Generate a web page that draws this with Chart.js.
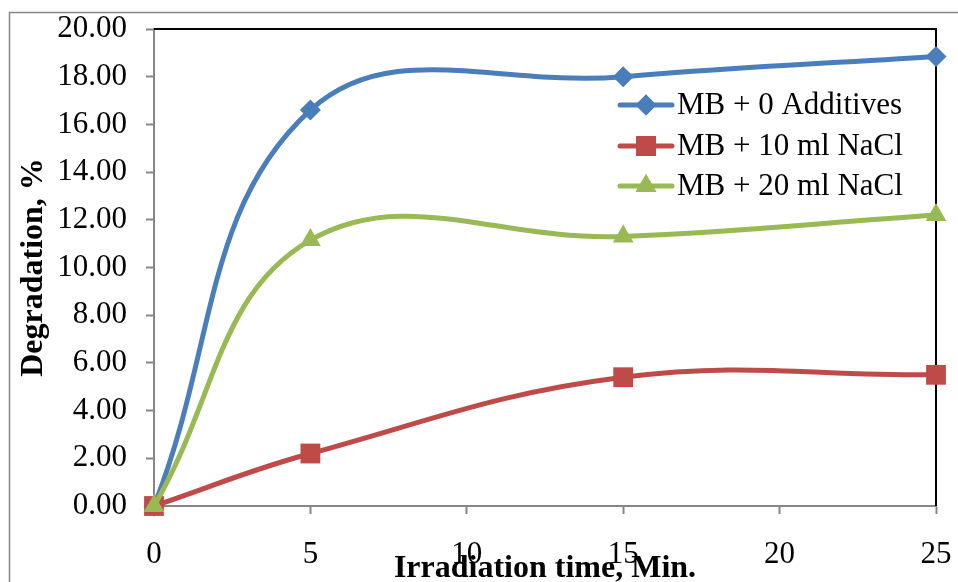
<!DOCTYPE html>
<html>
<head>
<meta charset="utf-8">
<script src="https://cdn.jsdelivr.net/npm/chart.js@4.4.1/dist/chart.umd.min.js"></script>
<style>
  html, body { margin: 0; padding: 0; background: #fff; overflow: hidden; }
  #wrap { position: relative; width: 958px; height: 582px; }
</style>
</head>
<body>
<div id="wrap"><canvas id="chart" width="958" height="582"></canvas></div>
<script>
// ── Data ──────────────────────────────────────────────────────────────────────
const times = [0, 5, 15, 25];
const seriesNames = ['MB + 0 Additives', 'MB + 10 ml NaCl', 'MB + 20 ml NaCl'];
const noAdditive = [0, 16.6, 18.0, 18.85];
const nacl10 = [0, 2.2, 5.4, 5.5];
const nacl20 = [0, 11.15, 11.3, 12.2];
const xTicks = [0, 5, 10, 15, 20, 25];
const yTicks = [0, 2, 4, 6, 8, 10, 12, 14, 16, 18, 20];

const SERIF = '"Liberation Serif", "Times New Roman", serif';
const AXIS_GREY = '#868686';

const COLORS = { blue: '#4a7ebb', red: '#be4b48', green: '#98b954' };

function toPoints(vals) { return times.map((t, i) => ({ x: t, y: vals[i] })); }

function series(label, vals, color, style, radius, order) {
  return {
    label,
    data: toPoints(vals),
    borderColor: color,
    backgroundColor: color,
    borderWidth: 5,
    tension: 0.4,
    pointStyle: style,
    pointRadius: radius,
    pointBorderWidth: 0,
    pointBackgroundColor: color,
    clip: false,
    order
  };
}

const datasets = [
  series(seriesNames[0], noAdditive, COLORS.blue, 'rectRot', 10.5, 2),
  series(seriesNames[1], nacl10, COLORS.red, 'rect', 14, 1),
  series(seriesNames[2], nacl20, COLORS.green, 'triangle', 12, 0)
];

// scales reserve room for their end labels; the plot box is fixed by layout padding instead
function noEdgePadding(s) {
  s.paddingTop = 0;
  s.paddingBottom = 0;
  s.paddingLeft = 0;
  s.paddingRight = 0;
}

// ── Frame, plot border and legend ─────────────────────────────────────────────
const decorations = {
  id: 'decorations',
  beforeDraw(chart) {
    const ctx = chart.ctx;
    ctx.save();
    ctx.strokeStyle = AXIS_GREY;
    ctx.lineWidth = 1.5;
    ctx.strokeRect(9.5, 12.5, 1200, 1200);
    ctx.restore();
  },
  beforeDatasetsDraw(chart) {
    const { ctx, chartArea: a } = chart;
    ctx.save();
    ctx.strokeStyle = '#000';
    ctx.lineWidth = 2;
    ctx.beginPath();
    ctx.moveTo(a.left, a.top);
    ctx.lineTo(a.right, a.top);
    ctx.lineTo(a.right, a.bottom);
    ctx.stroke();
    ctx.restore();
  },
  afterDatasetsDraw(chart) {
    const ctx = chart.ctx;
    const x0 = 620, x1 = 672, rowY = [105, 146, 186];
    ctx.save();
    datasets.forEach((ds, i) => {
      const y = rowY[i];
      ctx.strokeStyle = ds.borderColor;
      ctx.lineWidth = 5;
      ctx.lineCap = 'round';
      ctx.beginPath();
      ctx.moveTo(x0, y);
      ctx.lineTo(x1, y);
      ctx.stroke();
      ctx.fillStyle = ds.pointBackgroundColor;
      Chart.helpers.drawPoint(ctx, { pointStyle: ds.pointStyle, radius: ds.pointRadius, borderWidth: 0 }, (x0 + x1) / 2, y);
      ctx.fill();
      ctx.fillStyle = '#000';
      ctx.font = '31px ' + SERIF;
      ctx.textBaseline = 'middle';
      ctx.textAlign = 'left';
      ctx.fillText(ds.label, 677, y + 1);
    });
    ctx.restore();
  }
};

new Chart(document.getElementById('chart'), {
  type: 'line',
  data: { datasets },
  options: {
    responsive: false,
    animation: false,
    layout: { padding: { left: 0, top: 29, right: 22, bottom: 0 } },
    plugins: { legend: { display: false }, tooltip: { enabled: false } },
    scales: {
      x: {
        type: 'linear',
        min: 0,
        max: 25,
        afterBuildTicks: s => { s.ticks = xTicks.map(v => ({ value: v })); },
        afterFit: s => { s.height = 76; noEdgePadding(s); },
        grid: { drawOnChartArea: false, drawTicks: true, tickLength: 8, color: AXIS_GREY, tickWidth: 2 },
        border: { color: AXIS_GREY, width: 2 },
        ticks: { color: '#000', padding: 22, font: { family: SERIF, size: 31 } },
        title: {
          display: true,
          text: 'Irradiation time, Min.',
          color: '#000',
          padding: { top: 0, bottom: -6 },
          font: { family: SERIF, size: 32, weight: 'bold' }
        }
      },
      y: {
        min: 0,
        max: 20,
        afterBuildTicks: s => { s.ticks = yTicks.map(v => ({ value: v })); },
        afterFit: s => { s.width = 154; noEdgePadding(s); },
        grid: { drawOnChartArea: false, drawTicks: true, tickLength: 8, color: AXIS_GREY, tickWidth: 2 },
        border: { color: AXIS_GREY, width: 2 },
        ticks: { color: '#000', padding: 19, font: { family: SERIF, size: 31 }, callback: v => v.toFixed(2) },
        title: {
          display: true,
          text: 'Degradation, %',
          color: '#000',
          padding: { top: 15, bottom: 0 },
          font: { family: SERIF, size: 32, weight: 'bold' }
        }
      }
    }
  },
  plugins: [decorations]
});
</script>
</body>
</html>
